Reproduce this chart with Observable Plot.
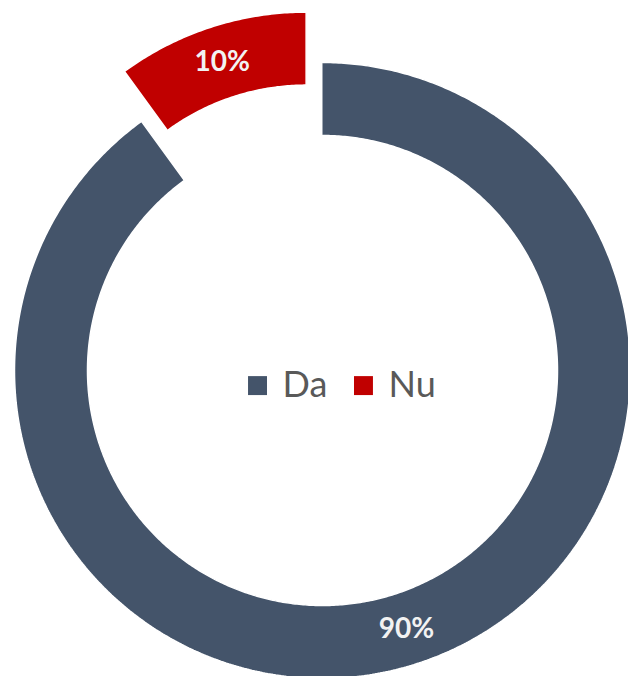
<!DOCTYPE html>
<html>
<head>
<meta charset="utf-8">
<script src="https://cdn.jsdelivr.net/npm/d3@7"></script>
<script src="https://cdn.jsdelivr.net/npm/@observablehq/plot@0.6"></script>
<style>
  html, body { margin: 0; padding: 0; background: #ffffff; }
  #chart { width: 628px; height: 676px; overflow: hidden; }
</style>
</head>
<body>
<div id="chart"></div>
<script>
// ---- data ----
const categories = ["Da", "Nu"];
const values = [90, 10];
const colors = ["#44546A", "#C00000"];
const explodedCategory = "Nu";

// ---- layout ----
const W = 628, H = 676;
const CX = 322, CY = 370, R = 308;     // pixel centre and outer radius
const innerRatio = 0.763;               // hole size
const explodeRatio = 0.172;             // outward shift of exploded slice
const total = d3.sum(values);

const arcs = d3.pie().sort(null)(values);

const slicePts = arcs.flatMap((a, i) => {
  const cat = categories[i];
  const mid = (a.startAngle + a.endAngle) / 2;
  const off = cat === explodedCategory ? explodeRatio : 0;
  const ox = off * Math.sin(mid), oy = off * Math.cos(mid);
  const n = Math.max(12, Math.ceil((a.endAngle - a.startAngle) / (Math.PI / 360)));
  const pts = [];
  for (let k = 0; k <= n; k++) {
    const t = a.startAngle + (a.endAngle - a.startAngle) * k / n;
    pts.push({category: cat, x: ox + Math.sin(t), y: oy + Math.cos(t)});
  }
  for (let k = n; k >= 0; k--) {
    const t = a.startAngle + (a.endAngle - a.startAngle) * k / n;
    pts.push({category: cat, x: ox + innerRatio * Math.sin(t), y: oy + innerRatio * Math.cos(t)});
  }
  return pts;
});

const labelR = (1 + innerRatio) / 2;
const labels = arcs.map((a, i) => {
  const cat = categories[i];
  const mid = (a.startAngle + a.endAngle) / 2;
  const off = cat === explodedCategory ? explodeRatio : 0;
  return {
    category: cat,
    x: (labelR + off) * Math.sin(mid),
    y: (labelR + off) * Math.cos(mid),
    text: Math.round(100 * values[i] / total) + "%"
  };
});

// legend layout (unit coordinates)
const legendX0 = -0.211, legendStep = 0.344, legendY = -0.049;

const chart = Plot.plot({
  width: W,
  height: H,
  margin: 0,
  x: {domain: [-CX / R, (W - CX) / R], range: [0, W], axis: null},
  y: {domain: [-(H - CY) / R, CY / R], range: [H, 0], axis: null},
  color: {domain: categories, range: colors},
  style: {background: "#ffffff", fontFamily: "Lato, sans-serif"},
  marks: [
    Plot.line(slicePts, {
      x: "x", y: "y", z: "category",
      fill: "category",
      stroke: "#ffffff",
      strokeWidth: 1.5,
      strokeLinejoin: "miter"
    }),
    Plot.text(labels, {
      x: "x", y: "y", text: "text",
      fill: "#F2F2F2",
      fontSize: 28,
      fontWeight: "bold",
      fontFamily: "Lato, sans-serif"
    }),
    Plot.dot(categories, {
      x: (d, i) => legendX0 + i * legendStep,
      y: () => legendY,
      symbol: "square",
      r: 10.7,
      fill: d => d,
      stroke: null
    }),
    Plot.text(categories, {
      x: (d, i) => legendX0 + i * legendStep,
      y: () => legendY,
      text: d => d,
      dx: 25,
      textAnchor: "start",
      fontSize: 36,
      fontFamily: "Lato, sans-serif",
      fill: "#595959"
    })
  ]
});

document.getElementById("chart").appendChild(chart);
</script>
</body>
</html>
